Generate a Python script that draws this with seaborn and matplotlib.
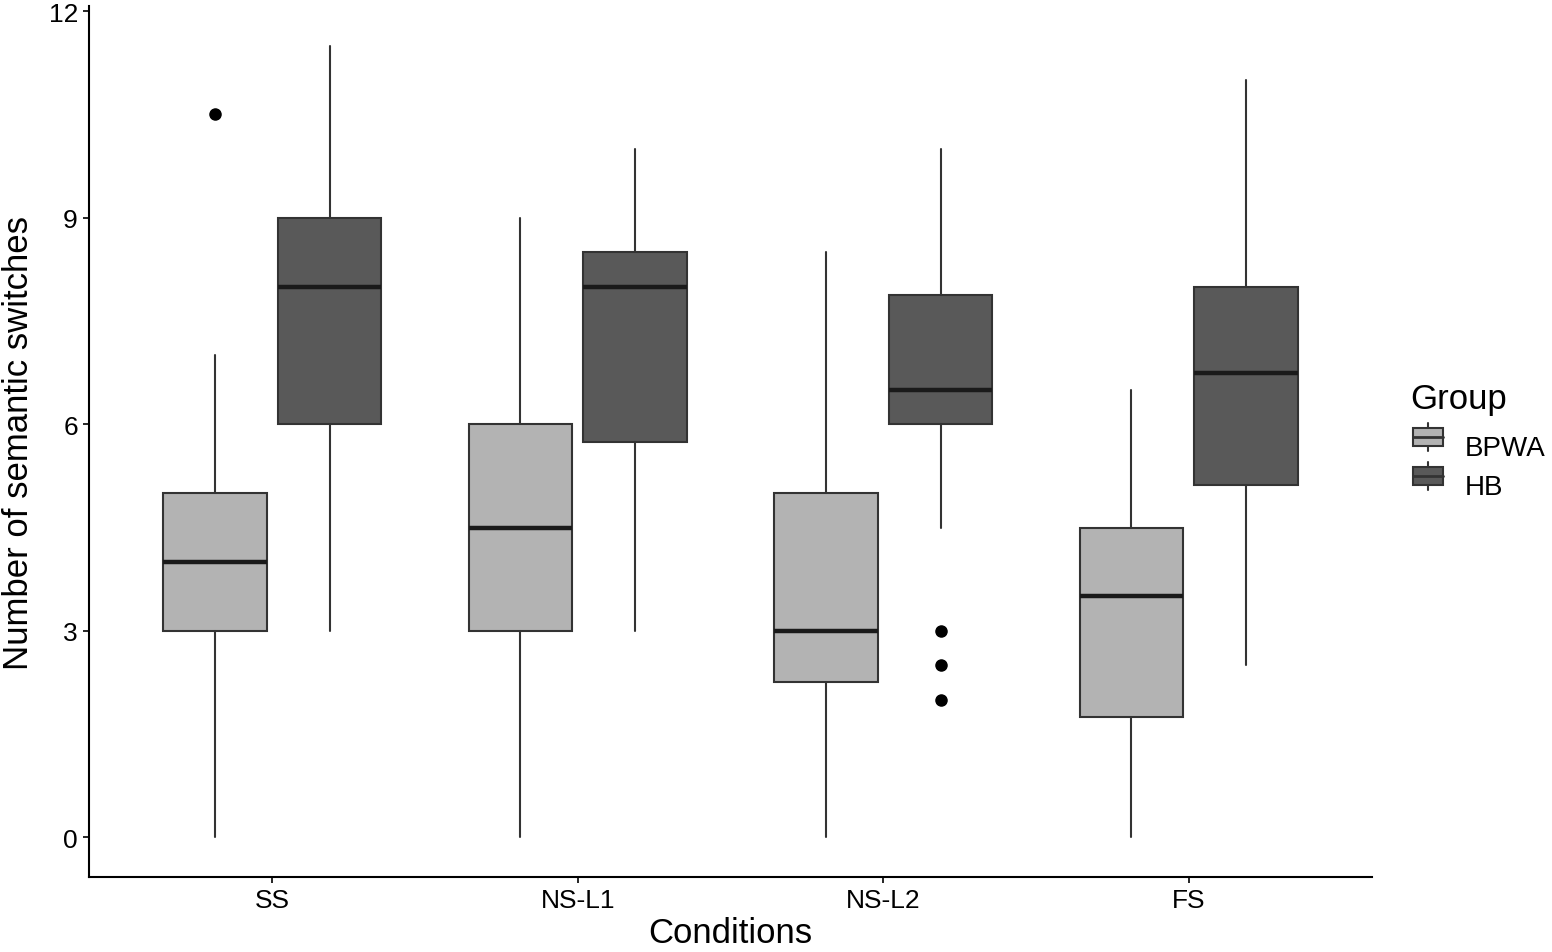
import matplotlib
matplotlib.use("Agg")
import matplotlib.pyplot as plt
import seaborn as sns
from matplotlib.legend_handler import HandlerBase
from matplotlib.patches import Rectangle
from matplotlib.lines import Line2D

# five-number summaries
conditions = ["SS", "NS-L1", "NS-L2", "FS"]
groups = ["BPWA", "HB"]

bpwa_low = [0, 0, 0, 0]
bpwa_q1 = [3, 3, 2.25, 1.75]
bpwa_med = [4, 4.5, 3, 3.5]
bpwa_q3 = [5, 6, 5, 4.5]
bpwa_high = [7, 9, 8.5, 6.5]
bpwa_out = [[10.5], [], [], []]

hb_low = [3, 3, 4.5, 2.5]
hb_q1 = [6, 5.75, 6, 5.125]
hb_med = [8, 8, 6.5, 6.75]
hb_q3 = [9, 8.5, 7.875, 8]
hb_high = [11.5, 10, 10, 11]
hb_out = [[], [], [3, 2.5, 2], []]

fills = {"BPWA": "#B3B3B3", "HB": "#595959"}
edge = "#333333"

sns.set_theme(style="white")
plt.rcParams["font.family"] = ["Liberation Sans", "DejaVu Sans"]
plt.rcParams["text.color"] = "black"
plt.rcParams["axes.labelcolor"] = "black"


def make_stats(low, q1, med, q3, high, out):
    return [dict(whislo=a, q1=b, med=c, q3=d, whishi=e, fliers=f)
            for a, b, c, d, e, f in zip(low, q1, med, q3, high, out)]


stats = {
    "BPWA": make_stats(bpwa_low, bpwa_q1, bpwa_med, bpwa_q3, bpwa_high, bpwa_out),
    "HB": make_stats(hb_low, hb_q1, hb_med, hb_q3, hb_high, hb_out),
}

fig = plt.figure(figsize=(15.52, 9.53), dpi=100)
ax = fig.add_axes([89 / 1552, 1 - 878 / 953, (1372 - 89) / 1552, (878 - 7) / 953])

dodge = 0.1875
for i, g in enumerate(groups):
    pos = [k + 1 + (i * 2 - 1) * dodge for k in range(len(conditions))]
    ax.bxp(stats[g], positions=pos, widths=0.3375, patch_artist=True,
           showcaps=False,
           boxprops=dict(facecolor=fills[g], edgecolor=edge, linewidth=1.5),
           whiskerprops=dict(color=edge, linewidth=1.5),
           medianprops=dict(color="#1a1a1a", linewidth=3.2),
           flierprops=dict(marker="o", markerfacecolor="black",
                           markeredgecolor="black", markersize=8))

ax.set_xlim(0.4, 4.6)
ax.set_ylim(-0.575, 12.075)
ax.set_xticks(range(1, 5))
ax.set_xticklabels(conditions)
ax.set_yticks([0, 3, 6, 9, 12])
ax.tick_params(axis="both", labelsize=19, colors="black", length=4, width=1.2,
               direction="out", bottom=True, left=True, pad=4)
ax.set_xlabel("Conditions", fontsize=25, labelpad=3)
ax.set_ylabel("Number of semantic switches", fontsize=25, labelpad=10)
sns.despine(ax=ax)
for s in ["left", "bottom"]:
    ax.spines[s].set_color("black")
    ax.spines[s].set_linewidth(1.5)


class BoxKey(HandlerBase):
    def create_artists(self, legend, orig, xd, yd, w, h, fontsize, trans):
        fc = orig.get_facecolor()
        cx = xd + w / 2
        r = Rectangle((xd, yd + h * 0.17), w, h * 0.66, facecolor=fc,
                      edgecolor=edge, lw=1.5, transform=trans)
        m = Line2D([xd, xd + w], [yd + h / 2] * 2, color=edge, lw=2, transform=trans)
        t = Line2D([cx, cx], [yd + h * 0.83, yd + h], color=edge, lw=1.5, transform=trans)
        b = Line2D([cx, cx], [yd, yd + h * 0.17], color=edge, lw=1.5, transform=trans)
        return [r, m, t, b]


fig.text(1410 / 1552, 1 - 400 / 953, "Group", fontsize=25, ha="left", va="center")
handles = [Rectangle((0, 0), 1, 1, facecolor=fills[g]) for g in groups]
leg = fig.legend(handles, groups, handler_map={Rectangle: BoxKey()},
                 loc="center left", bbox_to_anchor=(1413 / 1552, 1 - 467 / 953),
                 frameon=False, fontsize=20,
                 handlelength=1.08, handleheight=1.15, handletextpad=0.8,
                 labelspacing=0.36, borderpad=0, borderaxespad=0)

fig.savefig("out.png", dpi=100)
